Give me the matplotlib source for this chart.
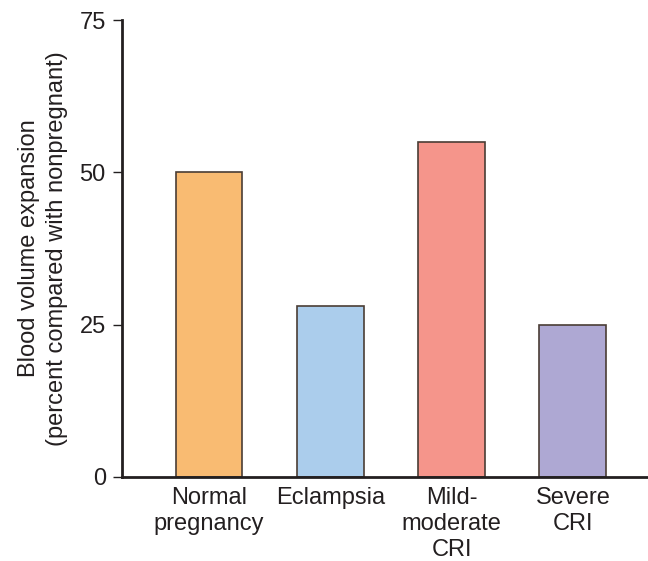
import matplotlib.pyplot as plt
import numpy as np

plt.rcParams['font.family'] = ['Liberation Sans', 'DejaVu Sans']

categories = ['Normal\npregnancy', 'Eclampsia', 'Mild-\nmoderate\nCRI', 'Severe\nCRI']
values = [50, 28, 55, 25]
colors = ['#F9BB72', '#ABCDEC', '#F5958B', '#AEA8D3']
yticks = [0, 25, 50, 75]

fig = plt.figure(figsize=(6.48, 5.61), dpi=100)
ax = fig.add_axes([0.188, 0.150, 0.812, 0.814])

x = np.arange(len(values))
ax.bar(x, values, width=0.55, color=colors, edgecolor='#4a3d35', linewidth=1.2)

ax.set_xlim(-0.72, 3.62)
ax.set_ylim(0, 75)
ax.set_yticks(yticks)
ax.set_xticks(x)
ax.set_xticklabels(categories, fontsize=17, color='#231f20', linespacing=1.26)
ax.tick_params(axis='x', length=0, pad=7)
ax.tick_params(axis='y', length=6.5, width=1, color='#231f20', labelsize=17,
               labelcolor='#231f20', pad=5)

for s in ['top', 'right']:
    ax.spines[s].set_visible(False)
for s in ['left', 'bottom']:
    ax.spines[s].set_linewidth(2)
    ax.spines[s].set_color('#231f20')

ax.set_ylabel('Blood volume expansion\n(percent compared with nonpregnant)',
              fontsize=17, color='#231f20', linespacing=1.35, labelpad=8)

fig.savefig('out.png', dpi=100)
